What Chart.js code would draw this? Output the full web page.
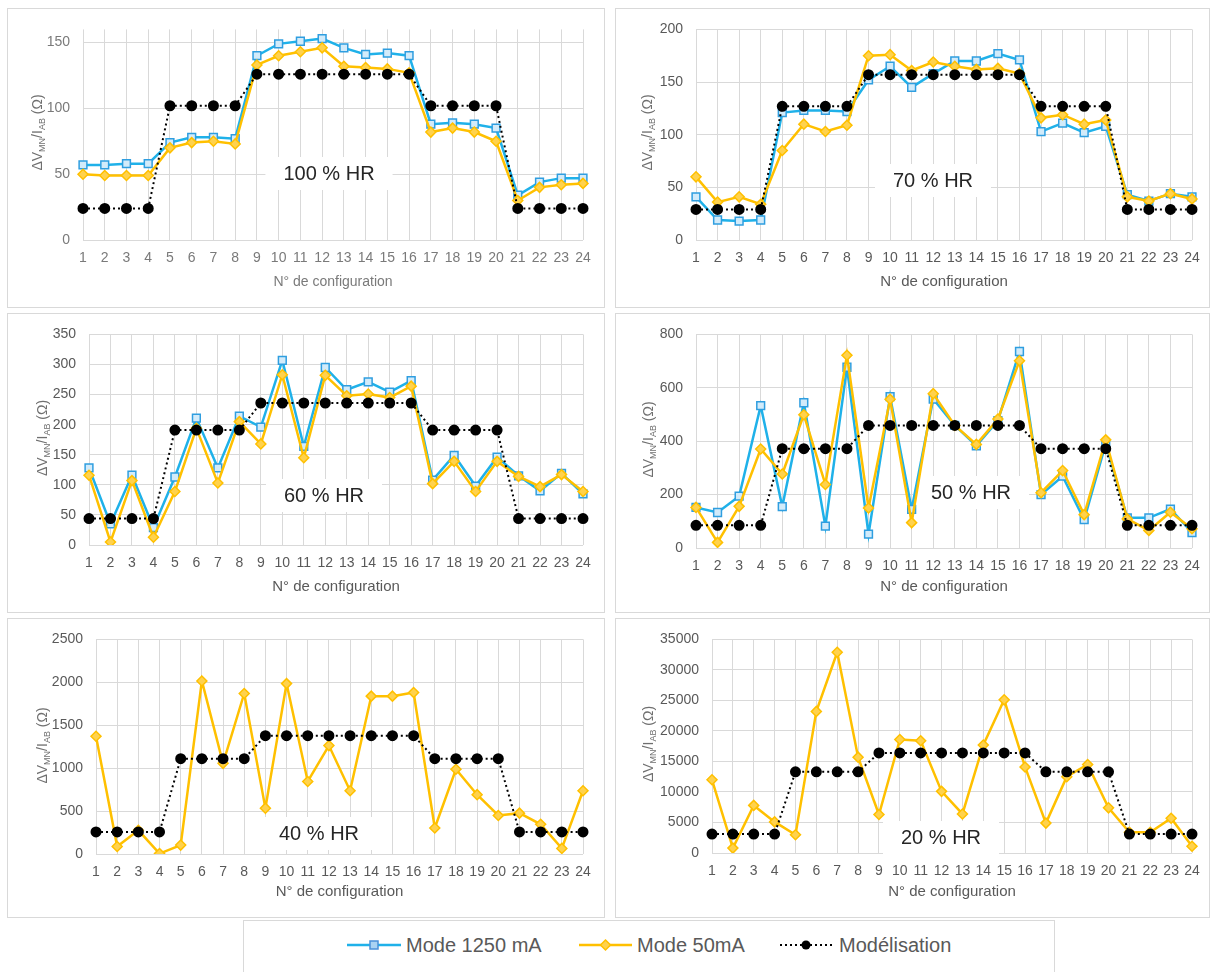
<!DOCTYPE html>
<html>
<head>
<meta charset="utf-8">
<script src="https://cdn.jsdelivr.net/npm/chart.js@4/dist/chart.umd.min.js"></script>
<style>
  body { margin: 0; background: #fff; }
  #page { position: relative; width: 1212px; height: 972px; overflow: hidden; background: #fff; }
  .frame { position: absolute; border: 1px solid #d9d9d9; box-sizing: border-box; }
  canvas.panel { position: absolute; }
  #legend { position: absolute; left: 243px; top: 920px; width: 812px; height: 70px; border: 1px solid #d9d9d9; box-sizing: border-box; }
  #legend svg, #legend span { position: absolute; }
  #legend span { font: 20px "Liberation Sans", Arial, sans-serif; color: #595959; line-height: 24px; top: 12px; white-space: nowrap; }
</style>
</head>
<body>
<div id="page">
  <div id="legend">
    <svg style="left:103px; top:16px" width="56" height="16">
      <line x1="0" y1="8" x2="54" y2="8" stroke="#1fb1e9" stroke-width="2.5"/>
      <rect x="23" y="4" width="8" height="8" fill="#a9d2f2" stroke="#4a90d9" stroke-width="1.5"/>
    </svg>
    <span style="left:162px">Mode 1250 mA</span>
    <svg style="left:335px; top:16px" width="56" height="16">
      <line x1="0" y1="8" x2="53" y2="8" stroke="#ffc000" stroke-width="2.5"/>
      <polygon points="26.5,3 31.5,8 26.5,13 21.5,8" fill="#ffd24d" stroke="#ffc000" stroke-width="1.5"/>
    </svg>
    <span style="left:393px">Mode 50mA</span>
    <svg style="left:536px; top:16px" width="56" height="16">
      <line x1="0" y1="8" x2="52" y2="8" stroke="#000" stroke-width="2" stroke-dasharray="2 3"/>
      <circle cx="26" cy="8" r="4.5" fill="#000"/>
    </svg>
    <span style="left:595px">Modélisation</span>
  </div>
</div>
<script>
// N° de configuration
const configurations = ['1', '2', '3', '4', '5', '6', '7', '8', '9', '10', '11', '12',
  '13', '14', '15', '16', '17', '18', '19', '20', '21', '22', '23', '24'];

// 100 % HR
const mode1250_100 = [57, 57, 58, 58, 74, 78, 78, 77, 140, 149, 151, 153, 146, 141, 142, 140, 88, 89, 88, 85, 34, 44, 47, 47];
const mode50_100 = [50, 49, 49, 49, 70, 74, 75, 73, 133, 140, 143, 146, 132, 131, 130, 127, 82, 85, 82, 75, 30, 40, 42, 43];
const model_100 = [24, 24, 24, 24, 102, 102, 102, 102, 126, 126, 126, 126, 126, 126, 126, 126, 102, 102, 102, 102, 24, 24, 24, 24];

// 70 % HR
const mode1250_70 = [41, 19, 18, 19, 121, 123, 123, 122, 152, 165, 145, 158, 170, 170, 177, 171, 103, 111, 102, 108, 43, 37, 44, 41];
const mode50_70 = [60, 36, 41, 34, 85, 110, 103, 109, 175, 176, 161, 169, 165, 162, 163, 158, 116, 119, 110, 114, 41, 37, 44, 39];
const model_70 = [29, 29, 29, 29, 127, 127, 127, 127, 157, 157, 157, 157, 157, 157, 157, 157, 127, 127, 127, 127, 29, 29, 29, 29];

// 60 % HR
const mode1250_60 = [128, 35, 116, 29, 113, 211, 128, 214, 196, 307, 164, 295, 258, 271, 254, 273, 108, 149, 98, 146, 115, 90, 119, 85];
const mode50_60 = [116, 5, 107, 13, 89, 194, 103, 205, 168, 283, 145, 282, 248, 251, 245, 264, 102, 139, 89, 139, 114, 97, 117, 89];
const model_60 = [44, 44, 44, 44, 191, 191, 191, 191, 236, 236, 236, 236, 236, 236, 236, 236, 191, 191, 191, 191, 44, 44, 44, 44];

// 50 % HR
const mode1250_50 = [152, 133, 194, 533, 155, 544, 82, 677, 52, 567, 145, 558, 459, 383, 477, 736, 200, 269, 106, 391, 113, 113, 146, 58];
const mode50_50 = [152, 21, 156, 371, 277, 499, 238, 722, 150, 557, 95, 578, 459, 388, 483, 701, 207, 290, 125, 405, 109, 66, 134, 72];
const model_50 = [85, 85, 85, 85, 372, 372, 372, 372, 459, 459, 459, 459, 459, 459, 459, 459, 372, 372, 372, 372, 85, 85, 85, 85];

// 40 % HR (Mode 50mA only)
const mode50_40 = [1371, 88, 276, 5, 104, 2016, 1056, 1870, 534, 1985, 845, 1263, 737, 1839, 1839, 1882, 303, 987, 691, 449, 476, 346, 65, 737];
const model_40 = [257, 257, 257, 257, 1110, 1110, 1110, 1110, 1379, 1379, 1379, 1379, 1379, 1379, 1379, 1379, 1110, 1110, 1110, 1110, 257, 257, 257, 257];

// 20 % HR (Mode 50mA only)
const mode50_20 = [12000, 800, 7800, 5100, 3000, 23200, 32900, 15700, 6300, 18600, 18400, 10100, 6400, 17700, 25100, 14100, 4900, 12500, 14500, 7400, 3400, 3400, 5700, 1100];
const model_20 = [3100, 3100, 3100, 3100, 13300, 13300, 13300, 13300, 16400, 16400, 16400, 16400, 16400, 16400, 16400, 16400, 13300, 13300, 13300, 13300, 3100, 3100, 3100, 3100];

const FONT = '"Liberation Sans", Arial, sans-serif';
Chart.defaults.font.family = FONT;

// box = frame [x, y, w, h]; area = plot corners [left, top, right, bottom], page pixels
const panels = [
  { box: [7, 8, 598, 300], area: [83, 25, 583, 240], max: 160, step: 50, name: '100 % HR', at: [329, 173],
    yTitleX: 37, xTitleY: 282, xTitleSize: 14, tickColor: '#7a7a7a', series: [mode1250_100, mode50_100, model_100] },
  { box: [615, 8, 595, 300], area: [696, 25, 1192, 240], max: 200, step: 50, name: '70 % HR', at: [933, 180],
    yTitleX: 647, xTitleY: 282, xTitleSize: 15, tickColor: '#595959', series: [mode1250_70, mode50_70, model_70] },
  { box: [7, 313, 598, 300], area: [89, 331, 583, 545], max: 350, step: 50, name: '60 % HR', at: [324, 495],
    yTitleX: 42, xTitleY: 587, xTitleSize: 15, tickColor: '#595959', series: [mode1250_60, mode50_60, model_60] },
  { box: [615, 313, 595, 300], area: [696, 331, 1192, 548], max: 800, step: 200, name: '50 % HR', at: [971, 492],
    yTitleX: 648, xTitleY: 587, xTitleSize: 15, tickColor: '#595959', series: [mode1250_50, mode50_50, model_50] },
  { box: [7, 618, 598, 300], area: [96, 637, 583, 854], max: 2500, step: 500, name: '40 % HR', at: [319, 833],
    yTitleX: 42, xTitleY: 892, xTitleSize: 15, tickColor: '#595959', series: [null, mode50_40, model_40] },
  { box: [615, 618, 595, 300], area: [712, 635, 1192, 853], max: 35000, step: 5000, name: '20 % HR', at: [941, 837],
    yTitleX: 648, xTitleY: 892, xTitleSize: 15, tickColor: '#595959', series: [null, mode50_20, model_20] }
];

function buildDatasets(m1250, m50, model) {
  const list = [{
    label: 'Modélisation', data: model, order: 0,
    borderColor: '#000', borderWidth: 2, borderDash: [2, 3],
    pointStyle: 'circle', pointRadius: 4.5, pointBackgroundColor: '#000', pointBorderColor: '#000'
  }, {
    label: 'Mode 50mA', data: m50, order: 1,
    borderColor: '#ffc000', borderWidth: 2.5,
    pointStyle: 'rectRot', pointRadius: 5, pointBackgroundColor: '#ffd24d', pointBorderColor: '#ffc000', pointBorderWidth: 1.5
  }];
  if (m1250) {
    list.push({
      label: 'Mode 1250 mA', data: m1250, order: 2,
      borderColor: '#1fb1e9', borderWidth: 2.5,
      pointStyle: 'rect', pointRadius: 5.5, pointBackgroundColor: '#d2ebfa', pointBorderColor: '#2f9ee0', pointBorderWidth: 1.5
    });
  }
  return list;
}

// ΔV_MN / I_AB (Ω), rotated, with real subscripts
function drawYTitle(ctx, cx, cy, color) {
  const parts = [['ΔV', 14, 0], ['MN', 9, 3], ['/I', 14, 0], ['AB', 9, 3], [' (Ω)', 14, 0]];
  ctx.save();
  ctx.translate(cx, cy);
  ctx.rotate(-Math.PI / 2);
  ctx.fillStyle = color;
  ctx.textBaseline = 'alphabetic';
  let total = 0;
  parts.forEach(p => { ctx.font = p[1] + 'px ' + FONT; p.push(ctx.measureText(p[0]).width); total += p[3]; });
  let x = -total / 2;
  parts.forEach(p => {
    ctx.font = p[1] + 'px ' + FONT;
    ctx.fillText(p[0], x, 5 + p[2]);
    x += p[3];
  });
  ctx.restore();
}

function panelDecor(p) {
  const bx = p.box[0], by = p.box[1];
  return {
    id: 'panelDecor',
    beforeDatasetsDraw(chart) {
      const ctx = chart.ctx;
      ctx.save();
      ctx.font = '20px ' + FONT;
      const w = ctx.measureText(p.name).width;
      const x = p.at[0] - bx, y = p.at[1] - by;
      ctx.fillStyle = '#fff';
      ctx.fillRect(x - w / 2 - 18, y - 16, w + 36, 33);
      ctx.fillStyle = '#262626';
      ctx.textAlign = 'center';
      ctx.textBaseline = 'middle';
      ctx.fillText(p.name, x, y + 1);
      ctx.restore();
    },
    afterDraw(chart) {
      const a = p.area;
      drawYTitle(chart.ctx, p.yTitleX - bx, (a[1] + a[3]) / 2 - by, '#6f6f6f');
    }
  };
}

const page = document.getElementById('page');

panels.forEach(p => {
  const [bx, by, bw, bh] = p.box;
  const [l, t, r, b] = p.area;

  const frame = document.createElement('div');
  frame.className = 'frame';
  Object.assign(frame.style, { left: bx + 'px', top: by + 'px', width: bw + 'px', height: bh + 'px' });
  page.appendChild(frame);

  const canvas = document.createElement('canvas');
  canvas.className = 'panel';
  canvas.width = bw;
  canvas.height = bh;
  Object.assign(canvas.style, { left: bx + 'px', top: by + 'px', width: bw + 'px', height: bh + 'px' });
  page.appendChild(canvas);

  const yWidth = l - bx;
  const xHeight = by + bh - b;
  const titleLine = p.xTitleSize * 1.2;
  const titlePad = by + bh - p.xTitleY - titleLine / 2;

  new Chart(canvas.getContext('2d'), {
    type: 'line',
    data: {
      labels: configurations,
      datasets: buildDatasets(p.series[0], p.series[1], p.series[2])
    },
    options: {
      responsive: false,
      animation: false,
      layout: { padding: { left: 0, top: t - by, right: bx + bw - r, bottom: 0 } },
      elements: { line: { tension: 0 } },
      plugins: { legend: { display: false }, tooltip: { enabled: false } },
      scales: {
        x: {
          offset: false,
          grid: { color: '#d9d9d9', drawTicks: false, offset: false },
          border: { display: false },
          ticks: { color: p.tickColor, font: { size: 14 }, padding: 10, maxRotation: 0, autoSkip: false },
          title: { display: true, text: 'N° de configuration', color: p.tickColor,
                   font: { size: p.xTitleSize }, padding: { top: 0, bottom: titlePad } },
          afterFit: s => { s.height = xHeight; }
        },
        y: {
          min: 0,
          max: p.max,
          grid: { color: '#d9d9d9', drawTicks: false },
          border: { display: false },
          ticks: { stepSize: p.step, padding: 13, color: p.tickColor, font: { size: 14 },
                   callback: v => String(v) },
          // major units only; the top of the 100 % HR panel sits above its last gridline
          afterBuildTicks: s => {
            const ticks = [];
            for (let v = 0; v <= p.max; v += p.step) ticks.push({ value: v });
            s.ticks = ticks;
          },
          afterFit: s => { s.width = yWidth; }
        }
      }
    },
    plugins: [panelDecor(p)]
  });
});
</script>
</body>
</html>
